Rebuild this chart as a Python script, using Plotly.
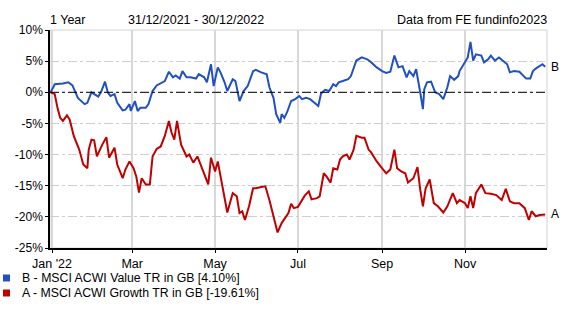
import plotly.graph_objects as go

# ---- data ----
dates_b = ["2021-12-31","2022-01-03","2022-01-09","2022-01-13","2022-01-16","2022-01-20","2022-01-25","2022-01-27",
           "2022-01-30","2022-02-01","2022-02-04","2022-02-06","2022-02-09","2022-02-11","2022-02-13","2022-02-16",
           "2022-02-18","2022-02-22","2022-02-24","2022-02-27","2022-02-28","2022-03-03","2022-03-05","2022-03-07",
           "2022-03-11","2022-03-13","2022-03-15","2022-03-16","2022-03-19","2022-03-22","2022-03-25","2022-03-28",
           "2022-03-31","2022-04-02","2022-04-05","2022-04-07","2022-04-10","2022-04-13","2022-04-17","2022-04-19",
           "2022-04-23","2022-04-25","2022-04-28","2022-04-30","2022-05-03","2022-05-05","2022-05-08","2022-05-10",
           "2022-05-14","2022-05-16","2022-05-19","2022-05-22","2022-05-25","2022-05-29","2022-05-31","2022-06-04",
           "2022-06-08","2022-06-10","2022-06-13","2022-06-15","2022-06-18","2022-06-19","2022-06-21","2022-06-23",
           "2022-06-26","2022-06-29","2022-07-02","2022-07-04","2022-07-07","2022-07-10","2022-07-13","2022-07-16",
           "2022-07-18","2022-07-21","2022-07-24","2022-07-27","2022-07-29","2022-07-31","2022-08-03","2022-08-07",
           "2022-08-09","2022-08-11","2022-08-13","2022-08-17","2022-08-21","2022-08-24","2022-08-28","2022-09-01",
           "2022-09-04","2022-09-07","2022-09-10","2022-09-13","2022-09-16","2022-09-19","2022-09-21","2022-09-24",
           "2022-09-26","2022-09-29","2022-10-01","2022-10-02","2022-10-04","2022-10-07","2022-10-10","2022-10-13",
           "2022-10-16","2022-10-19","2022-10-21","2022-10-24","2022-10-27","2022-10-28","2022-11-01","2022-11-03",
           "2022-11-05","2022-11-07","2022-11-09","2022-11-13","2022-11-15","2022-11-18","2022-11-20","2022-11-23",
           "2022-11-26","2022-11-29","2022-12-02","2022-12-04","2022-12-07","2022-12-11","2022-12-13","2022-12-16",
           "2022-12-19","2022-12-21","2022-12-23","2022-12-26","2022-12-28","2022-12-30"]
values_b = [0.0,1.3,1.4,1.6,1.1,-0.9,-1.9,-1.7,
            0.0,-0.3,-0.7,0.0,1.7,0.0,-0.6,-0.3,
            -1.7,-2.9,-2.8,-1.9,-3.0,-1.4,-3.0,-2.5,
            -2.5,-1.9,-0.6,0.2,1.1,1.4,1.8,3.3,
            2.4,2.7,2.2,3.4,2.4,2.4,2.2,2.9,
            2.4,1.6,4.5,1.0,4.0,3.2,1.6,0.2,
            2.1,1.8,-1.4,0.2,1.0,3.4,3.6,3.2,
            2.9,0.8,-0.9,-3.5,-4.9,-3.5,-4.1,-3.2,
            -1.4,-1.1,-0.6,-1.1,-0.9,-1.1,-1.7,-2.2,
            -0.2,0.4,0.2,1.3,1.0,1.6,1.8,2.1,
            2.6,4.0,5.1,5.6,5.3,4.8,4.0,3.4,
            3.1,3.3,5.9,4.0,4.2,2.4,3.4,2.6,
            3.7,0.0,-2.7,0.5,1.6,1.7,0.0,-0.3,
            -1.1,0.8,2.6,2.0,2.6,3.4,4.8,5.6,
            8.1,5.1,6.1,5.9,4.8,5.3,5.9,5.1,
            5.6,5.1,4.5,3.2,3.4,3.3,2.9,2.2,
            2.2,3.4,3.8,4.2,4.5,4.10]

dates_a = ["2021-12-31","2022-01-03","2022-01-05","2022-01-07","2022-01-09","2022-01-12","2022-01-14","2022-01-17",
           "2022-01-21","2022-01-24","2022-01-27","2022-01-28","2022-01-30","2022-02-01","2022-02-03","2022-02-05",
           "2022-02-07","2022-02-10","2022-02-12","2022-02-14","2022-02-16","2022-02-18","2022-02-22","2022-02-24",
           "2022-02-27","2022-03-02","2022-03-04","2022-03-06","2022-03-08","2022-03-11","2022-03-14","2022-03-16",
           "2022-03-19","2022-03-22","2022-03-25","2022-03-28","2022-03-30","2022-04-01","2022-04-03","2022-04-06",
           "2022-04-10","2022-04-12","2022-04-15","2022-04-18","2022-04-21","2022-04-23","2022-04-26","2022-04-28",
           "2022-05-01","2022-05-03","2022-05-06","2022-05-10","2022-05-14","2022-05-17","2022-05-19","2022-05-21",
           "2022-05-23","2022-05-26","2022-05-29","2022-05-31","2022-06-04","2022-06-07","2022-06-10","2022-06-13",
           "2022-06-16","2022-06-19","2022-06-21","2022-06-24","2022-06-26","2022-06-28","2022-07-01","2022-07-04",
           "2022-07-06","2022-07-09","2022-07-11","2022-07-15","2022-07-17","2022-07-20","2022-07-22","2022-07-25",
           "2022-07-27","2022-07-30","2022-08-01","2022-08-03","2022-08-06","2022-08-08","2022-08-11","2022-08-13",
           "2022-08-17","2022-08-19","2022-08-22","2022-08-24","2022-08-28","2022-09-01","2022-09-04","2022-09-07",
           "2022-09-10","2022-09-12","2022-09-15","2022-09-18","2022-09-20","2022-09-24","2022-09-27","2022-09-29",
           "2022-10-01","2022-10-03","2022-10-06","2022-10-09","2022-10-12","2022-10-16","2022-10-19","2022-10-23",
           "2022-10-26","2022-10-28","2022-11-01","2022-11-03","2022-11-05","2022-11-07","2022-11-09","2022-11-13",
           "2022-11-16","2022-11-20","2022-11-24","2022-11-28","2022-12-01","2022-12-04","2022-12-07","2022-12-11",
           "2022-12-15","2022-12-18","2022-12-20","2022-12-23","2022-12-26","2022-12-30"]
values_a = [0.0,-0.3,-2.5,-4.1,-4.6,-3.7,-4.4,-7.0,
            -9.2,-11.6,-12.2,-9.2,-7.6,-7.7,-10.3,-9.2,
            -8.4,-7.2,-10.5,-9.7,-8.9,-11.6,-13.8,-12.4,
            -11.1,-12.2,-13.5,-16.1,-13.8,-14.8,-14.8,-10.3,
            -9.1,-8.7,-7.0,-4.6,-6.5,-7.6,-4.6,-8.4,
            -10.3,-10.0,-11.3,-10.3,-11.9,-13.0,-14.8,-10.5,
            -12.7,-11.1,-14.4,-19.3,-16.2,-16.7,-19.4,-19.1,
            -20.5,-18.3,-15.4,-15.4,-15.2,-15.1,-17.3,-19.7,
            -22.5,-21.0,-20.4,-19.4,-17.9,-18.6,-18.4,-17.2,
            -16.6,-15.9,-17.2,-17.0,-16.7,-13.0,-13.5,-14.5,
            -12.2,-12.4,-10.8,-10.3,-10.0,-10.8,-9.2,-7.0,
            -7.3,-7.3,-9.2,-9.7,-11.1,-12.2,-13.0,-12.4,
            -9.2,-12.2,-12.7,-13.0,-14.5,-13.8,-12.0,-15.6,
            -18.3,-15.4,-14.0,-17.8,-18.3,-19.3,-18.3,-16.2,
            -17.8,-17.3,-17.8,-18.6,-16.7,-18.6,-16.2,-14.8,
            -16.2,-16.3,-16.5,-17.3,-15.5,-17.5,-17.8,-17.8,
            -18.6,-20.5,-19.1,-19.9,-19.7,-19.61]

name_b = "B - MSCI ACWI Value TR in GB [4.10%]"
name_a = "A - MSCI ACWI Growth TR in GB [-19.61%]"
y_ticks = [10, 5, 0, -5, -10, -15, -20, -25]
y_labels = [f"{v}%" for v in y_ticks]
x_ticks = ["2022-01-01", "2022-03-01", "2022-05-01", "2022-07-01", "2022-09-01", "2022-11-01"]
x_labels = ["Jan '22", "Mar", "May", "Jul", "Sep", "Nov"]

BLUE = "#2150c0"
RED = "#c00000"
FONT = "Liberation Sans"

fig = go.Figure()
fig.add_trace(go.Scatter(x=dates_b, y=values_b, mode="lines", line=dict(color=BLUE, width=2),
                         showlegend=False, hoverinfo="skip"))
fig.add_trace(go.Scatter(x=dates_a, y=values_a, mode="lines", line=dict(color=RED, width=2),
                         showlegend=False, hoverinfo="skip"))

# frame and zero line
fig.add_shape(type="rect", xref="paper", yref="paper", x0=0, x1=1, y0=0, y1=1,
              line=dict(color="#d4d4d4", width=1), layer="below")
fig.add_shape(type="line", xref="paper", yref="y", x0=0, x1=1, y0=0, y1=0,
              line=dict(color="black", width=1, dash="dashdot"))

# end labels
fig.add_annotation(x=dates_b[-1], y=values_b[-1], text="B", showarrow=False,
                   xanchor="left", xshift=4, font=dict(family=FONT, size=12, color="black"))
fig.add_annotation(x=dates_a[-1], y=values_a[-1], text="A", showarrow=False,
                   xanchor="left", xshift=4, font=dict(family=FONT, size=12, color="black"))

# header
hdr = dict(xref="paper", yref="paper", y=1.048, yanchor="middle", showarrow=False,
           font=dict(family=FONT, size=12.5, color="black"))
fig.add_annotation(x=-0.004, xanchor="left", text="1 Year", **hdr)
fig.add_annotation(x=0.153, xanchor="left", text="31/12/2021 - 30/12/2022", **hdr)
fig.add_annotation(x=1.004, xanchor="right", text="Data from FE fundinfo2023", **hdr)

# legend (square swatches + text)
legend_items = [(name_b, BLUE, -0.1376), (name_a, RED, -0.2064)]
for text, col, yc in legend_items:
    fig.add_shape(type="rect", xref="paper", yref="paper", x0=-0.0946, x1=-0.0805,
                  y0=yc - 0.016, y1=yc + 0.016, line=dict(width=0), fillcolor=col)
    fig.add_annotation(xref="paper", yref="paper", x=-0.0604, y=yc, xanchor="left", yanchor="middle",
                       text=text, showarrow=False, font=dict(family=FONT, size=12.3, color="black"))

fig.update_layout(
    width=566, height=310,
    margin=dict(l=50, r=19, t=30, b=62),
    paper_bgcolor="white", plot_bgcolor="white",
    font=dict(family=FONT, size=12, color="black"),
    showlegend=False,
)
fig.update_xaxes(
    type="date", range=["2021-12-30 12:00", "2022-12-31 08:00"],
    tickmode="array", tickvals=x_ticks, ticktext=x_labels,
    tickfont=dict(family=FONT, size=12.5),
    showgrid=True, gridcolor="#d8d8d8", gridwidth=1.5,
    showline=True, linecolor="black", linewidth=1.5,
    ticks="outside", ticklen=3, tickcolor="black", zeroline=False, automargin=False,
)
fig.update_yaxes(
    range=[-25, 10], tickmode="array", tickvals=y_ticks, ticktext=y_labels,
    tickfont=dict(family=FONT, size=12),
    showgrid=True, gridcolor="#cfcfcf", gridwidth=1, griddash="dashdot",
    showline=True, linecolor="black", linewidth=1.5,
    ticks="outside", ticklen=3, tickcolor="black", zeroline=False, automargin=False,
)

fig.write_html("out.html")
